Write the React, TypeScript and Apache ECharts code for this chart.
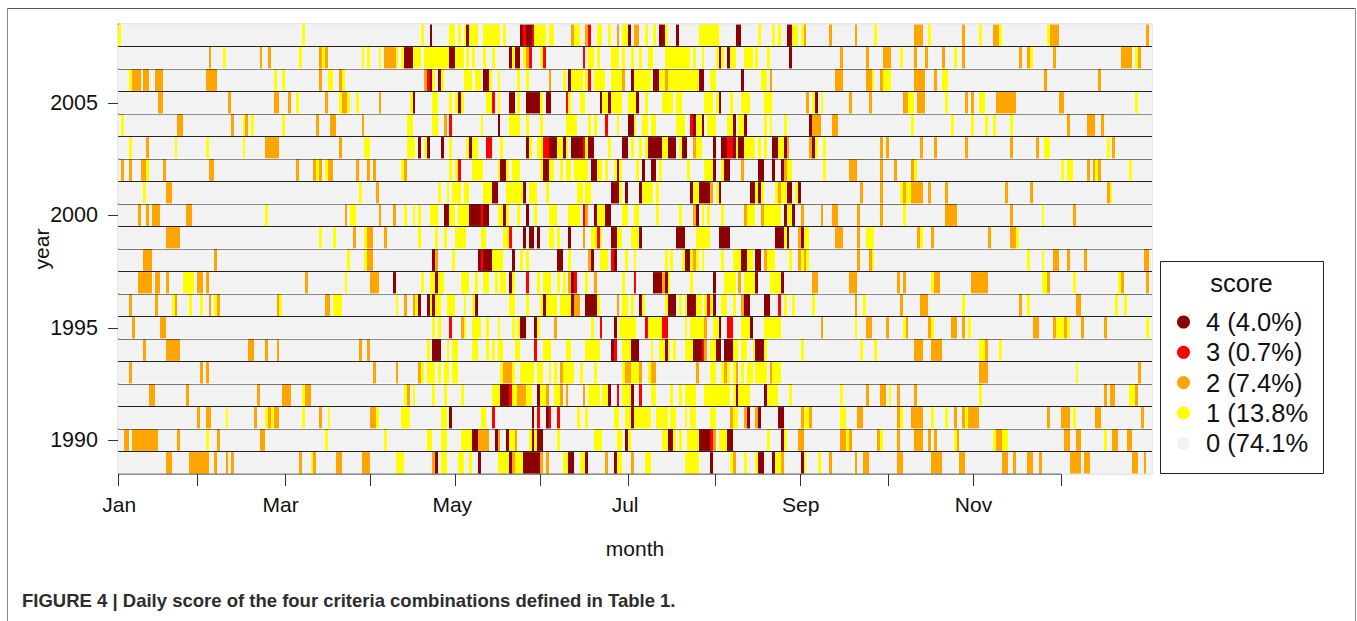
import React, { useEffect, useRef } from "react";
import * as echarts from "echarts";

type Run = [number, number, number]; // first day, last day (0-based, inclusive), score

const years = ["1989","1990","1991","1992","1993","1994","1995","1996","1997","1998","1999","2000","2001","2002","2003","2004","2005","2006","2007","2008"];
const labelYears = ["1990","1995","2000","2005"];
const monthTickDays = [0,28,59,89,119,149,180,211,241,272,302,333];
const monthLabelDays = [0.4,57.4,118,179,241,302];
const monthLabels = ["Jan","Mar","May","Jul","Sep","Nov"];
const scoreNames = ["0 (74.1%","1 (13.8%","2 (7.4%)","3 (0.7%)","4 (4.0%)"];
const scoreColors = ["#f2f2f2","#ffff00","#ffa500","#ff0000","#8b0000"];
const legendOrder = [4,3,2,1,0];

const y2008: Run[] = [[0,0,1],[65,65,1],[107,107,1],[110,110,4],[117,118,1],[120,120,1],[122,122,1],[123,123,4],[124,126,1],[129,134,1],[136,136,1],[142,142,4],[143,143,3],[144,145,4],[146,146,3],[147,150,1],[152,153,1],[160,160,2],[161,162,1],[165,165,2],[166,166,3],[169,170,1],[173,173,1],[176,176,2],[178,179,1],[180,180,4],[182,183,2],[186,186,1],[189,189,1],[191,192,4],[193,193,1],[197,197,4],[205,211,1],[218,219,4],[226,226,1],[231,231,1],[233,233,1],[236,237,4],[238,239,1],[241,241,1],[242,242,2],[251,251,2],[260,260,2],[267,267,1],[281,283,2],[286,286,1],[298,298,2],[304,304,1],[309,310,2],[311,311,1],[328,328,1],[329,331,2],[363,363,2]];
const y2007: Run[] = [[32,32,2],[37,37,1],[50,50,2],[53,53,2],[64,64,1],[71,71,2],[72,72,1],[73,73,2],[86,86,1],[88,88,1],[92,92,1],[94,97,2],[98,98,1],[100,100,1],[101,103,4],[104,106,1],[108,116,1],[117,118,4],[119,121,1],[123,123,1],[125,125,1],[129,129,1],[132,132,1],[138,138,4],[139,139,1],[140,141,4],[143,143,1],[144,144,2],[145,145,3],[149,149,1],[150,150,3],[164,164,3],[166,167,1],[169,169,1],[174,176,1],[178,178,1],[181,181,1],[184,184,1],[187,188,1],[193,201,1],[203,203,1],[206,206,1],[211,211,1],[212,212,4],[213,213,1],[215,215,4],[216,217,1],[221,223,1],[225,225,1],[229,229,1],[237,237,4],[255,255,2],[264,264,2],[270,272,2],[276,276,1],[281,281,2],[285,285,2],[291,291,2],[295,295,1],[298,298,2],[318,318,2],[321,321,2],[322,322,1],[330,330,2],[354,357,2],[359,359,1],[360,360,2]];
const y2006: Run[] = [[4,4,1],[5,7,2],[9,10,2],[13,15,2],[31,34,2],[55,55,1],[58,58,1],[71,71,2],[74,75,1],[78,78,2],[79,79,1],[108,108,2],[109,109,3],[110,110,4],[111,111,1],[113,113,4],[114,114,1],[122,124,1],[126,127,1],[129,130,4],[131,131,1],[134,134,1],[141,141,1],[144,144,1],[152,152,2],[157,157,1],[159,159,4],[160,163,1],[165,165,1],[166,166,3],[168,171,1],[174,177,1],[178,178,2],[181,181,4],[182,187,1],[189,190,4],[191,192,1],[193,193,2],[194,204,1],[205,206,4],[209,210,1],[220,220,4],[227,228,1],[230,230,2],[253,255,2],[264,265,2],[266,266,1],[269,269,2],[270,272,1],[281,284,2],[288,288,2],[291,292,1],[327,327,2],[346,346,2]];
const y2005: Run[] = [[14,15,2],[39,39,2],[55,56,2],[60,60,2],[63,63,1],[73,73,2],[78,78,1],[79,80,2],[81,81,1],[84,84,1],[92,92,2],[103,103,1],[104,104,4],[111,112,1],[117,117,1],[119,119,1],[120,120,4],[121,121,1],[130,131,1],[132,132,3],[134,134,1],[138,139,4],[141,141,1],[144,148,4],[149,149,1],[151,152,4],[158,158,3],[159,159,1],[163,164,1],[170,170,4],[171,172,1],[173,173,4],[174,177,1],[180,182,1],[183,183,4],[186,186,1],[192,195,1],[197,198,1],[207,209,1],[211,211,1],[212,212,4],[216,216,1],[220,222,1],[228,230,1],[243,243,2],[245,245,1],[246,246,4],[248,248,1],[258,258,2],[265,265,2],[277,278,2],[279,280,1],[282,284,2],[292,292,1],[299,299,2],[301,301,2],[304,305,1],[310,316,2],[332,333,2],[359,359,1]];
const y2004: Run[] = [[1,1,1],[21,22,2],[40,40,2],[44,44,1],[45,45,2],[47,47,1],[58,58,1],[70,70,2],[75,76,2],[86,86,2],[102,103,1],[111,112,1],[115,115,2],[117,117,3],[128,128,1],[134,134,4],[138,141,1],[144,144,1],[149,149,1],[158,161,1],[166,166,1],[168,168,1],[172,172,3],[176,176,1],[180,181,4],[182,182,1],[185,186,1],[188,189,1],[197,199,1],[202,202,3],[203,203,4],[204,205,1],[206,206,4],[208,210,1],[215,216,1],[217,217,4],[219,220,1],[221,221,4],[228,228,1],[230,230,1],[235,235,1],[244,244,4],[245,247,2],[252,253,2],[280,280,1],[294,294,1],[301,301,1],[306,306,1],[309,309,1],[315,315,1],[335,335,2],[342,344,2],[347,347,2]];
const y2003: Run[] = [[4,4,1],[10,10,2],[20,20,1],[31,31,1],[44,44,1],[52,56,2],[78,78,2],[87,88,1],[102,104,1],[106,106,4],[108,108,1],[109,109,4],[114,114,4],[117,117,1],[123,123,1],[124,124,4],[125,126,1],[130,131,3],[135,135,1],[144,144,4],[145,145,1],[148,149,1],[150,151,3],[152,154,4],[155,156,1],[157,157,4],[158,158,1],[160,163,4],[164,164,3],[165,165,1],[166,167,4],[173,173,1],[178,179,4],[181,181,1],[184,184,1],[186,186,1],[187,191,4],[192,193,1],[194,196,4],[198,198,1],[199,200,4],[203,203,2],[204,205,1],[210,210,4],[213,214,4],[215,216,3],[217,217,4],[218,218,1],[219,220,4],[221,224,1],[226,226,1],[228,228,1],[231,232,4],[233,234,1],[235,235,4],[236,236,2],[244,244,2],[245,245,4],[246,246,1],[249,249,1],[269,269,2],[271,271,2],[283,283,2],[288,288,2],[299,299,2],[315,315,2],[324,324,2],[327,328,1],[349,349,1],[351,351,2]];
const y2002: Run[] = [[1,1,2],[4,4,2],[8,9,2],[10,10,1],[16,16,2],[32,33,2],[63,63,2],[69,69,2],[70,70,1],[71,71,2],[73,73,1],[74,75,2],[84,84,2],[88,88,2],[90,90,2],[100,100,1],[101,101,2],[117,117,1],[119,119,1],[120,120,3],[125,128,1],[134,134,1],[135,136,4],[137,137,1],[139,141,1],[149,149,1],[150,151,4],[152,153,1],[156,156,1],[158,159,1],[161,165,1],[167,168,4],[169,170,1],[172,172,1],[175,175,1],[176,176,4],[177,177,1],[183,183,1],[185,185,4],[188,189,4],[191,191,1],[201,201,1],[207,209,1],[210,210,4],[213,213,1],[214,215,4],[220,220,2],[226,227,4],[231,231,4],[234,234,4],[235,235,2],[236,237,1],[249,249,1],[258,260,2],[269,269,2],[274,274,2],[280,280,2],[281,281,1],[333,333,1],[335,336,1],[342,342,2],[344,344,2],[345,345,1],[346,346,2],[357,357,1]];
const y2001: Run[] = [[9,9,1],[17,18,2],[85,85,1],[91,91,2],[113,113,1],[116,116,1],[118,120,1],[122,123,1],[129,131,1],[132,133,4],[137,142,1],[143,143,4],[145,147,1],[151,151,1],[162,163,1],[165,166,1],[174,176,4],[177,177,1],[179,179,4],[184,184,4],[185,188,1],[190,190,1],[202,202,4],[203,204,1],[205,208,4],[209,209,2],[211,211,1],[212,212,4],[223,224,4],[225,225,1],[226,226,4],[227,227,1],[232,232,1],[233,233,2],[234,235,1],[236,237,4],[239,239,1],[240,240,4],[262,262,2],[269,269,2],[276,276,1],[277,277,2],[278,279,1],[280,283,2],[286,286,2],[292,292,2],[313,313,2],[322,322,2],[349,349,2],[350,350,1]];
const y2000: Run[] = [[7,7,2],[10,10,2],[12,14,2],[24,25,2],[52,52,1],[80,80,2],[82,83,1],[92,92,2],[97,97,2],[101,101,1],[104,104,1],[106,106,1],[110,112,1],[115,116,4],[117,118,1],[120,123,1],[124,127,4],[128,128,3],[129,130,4],[134,135,1],[136,136,4],[137,137,1],[141,141,1],[144,144,4],[147,147,1],[152,154,1],[159,162,1],[164,164,3],[165,165,2],[168,168,4],[169,171,1],[172,173,4],[178,179,1],[182,183,1],[190,190,1],[198,198,1],[203,203,2],[204,204,4],[206,206,1],[208,208,1],[213,213,1],[221,221,2],[222,224,1],[227,227,2],[228,233,1],[235,235,4],[236,237,1],[238,238,4],[241,241,2],[248,248,2],[252,253,2],[261,261,2],[269,269,2],[277,277,1],[292,295,2],[315,315,2],[326,326,1],[337,337,2]];
const y1999: Run[] = [[17,21,2],[71,71,1],[76,76,1],[83,83,2],[87,87,1],[88,89,2],[94,94,2],[106,106,1],[112,112,1],[115,115,1],[119,122,1],[128,129,1],[136,137,1],[138,138,3],[143,143,4],[145,146,4],[148,148,4],[152,153,1],[155,155,1],[159,159,4],[164,164,2],[167,168,1],[169,169,3],[170,170,1],[174,175,4],[176,177,1],[181,183,1],[184,184,4],[197,199,4],[204,208,1],[212,215,4],[232,234,4],[235,235,1],[236,236,4],[240,240,2],[241,241,4],[242,243,1],[253,255,2],[261,261,2],[264,266,1],[282,282,2],[283,283,1],[287,287,2],[307,307,2],[315,316,2],[317,317,1]];
const y1998: Run[] = [[9,11,2],[34,34,2],[81,81,1],[87,87,1],[88,89,2],[111,111,4],[112,112,2],[118,118,1],[127,127,4],[128,128,3],[129,131,4],[132,135,1],[139,139,4],[142,142,1],[144,144,1],[155,156,4],[159,159,1],[166,166,2],[167,167,4],[170,172,1],[174,174,3],[175,175,4],[179,179,1],[182,182,1],[193,193,1],[195,195,1],[199,199,1],[200,201,4],[202,202,1],[203,203,2],[204,204,1],[206,206,1],[213,213,1],[217,219,1],[220,221,4],[222,223,1],[225,226,4],[228,228,2],[229,231,1],[237,237,1],[240,240,2],[241,241,1],[242,242,2],[243,243,1],[261,261,2],[265,265,2],[266,266,1],[321,321,1],[326,326,1],[330,331,2],[335,335,2],[341,341,2],[362,363,2]];
const y1997: Run[] = [[7,11,2],[13,14,2],[17,17,2],[23,26,1],[28,29,2],[31,31,2],[66,66,2],[80,80,1],[89,91,2],[97,97,4],[107,107,1],[110,111,1],[112,112,4],[113,114,1],[121,123,1],[126,126,1],[129,130,1],[133,133,1],[135,136,1],[138,138,4],[139,139,1],[144,144,3],[148,148,1],[150,152,1],[155,155,1],[157,157,1],[159,159,2],[160,160,4],[161,161,3],[165,165,1],[168,168,2],[178,178,1],[182,182,3],[189,191,4],[192,192,2],[193,193,4],[194,194,1],[202,202,1],[210,210,4],[214,217,1],[219,219,2],[221,224,1],[225,225,4],[230,233,1],[234,234,4],[245,246,2],[258,260,2],[275,275,2],[277,277,2],[287,287,1],[288,289,2],[301,306,2],[326,327,1],[328,328,2],[337,337,1],[353,353,1],[354,354,2],[363,363,2]];
const y1996: Run[] = [[4,4,2],[13,13,2],[19,19,1],[20,20,2],[25,25,1],[29,29,1],[32,32,2],[34,34,1],[35,35,2],[56,56,2],[57,57,1],[73,74,2],[76,78,1],[98,98,1],[101,101,2],[104,104,2],[105,105,1],[106,106,4],[109,109,4],[110,110,1],[111,111,4],[112,113,1],[116,118,1],[122,122,1],[125,125,1],[126,126,4],[138,139,1],[144,144,1],[149,149,1],[150,150,4],[151,154,1],[156,159,1],[160,160,4],[161,162,2],[165,168,4],[169,169,1],[176,176,2],[178,179,1],[181,181,1],[184,184,4],[185,185,1],[193,193,1],[194,196,4],[198,198,1],[200,200,1],[201,203,4],[204,205,1],[207,207,1],[208,208,3],[209,209,1],[210,210,4],[213,214,1],[217,217,1],[220,220,2],[221,222,4],[228,229,4],[233,233,3],[235,235,1],[238,238,1],[245,245,1],[260,260,2],[263,263,1],[276,276,2],[283,285,2],[298,298,1],[318,318,2],[321,321,1],[338,339,2],[352,352,1],[355,355,1]];
const y1995: Run[] = [[5,5,2],[15,16,2],[111,111,1],[113,113,1],[117,117,3],[121,121,2],[122,122,1],[125,127,1],[130,130,1],[134,134,1],[139,139,1],[141,141,1],[142,143,4],[147,147,4],[148,148,1],[154,154,2],[167,167,1],[170,170,3],[175,175,4],[177,182,1],[186,186,3],[187,191,1],[192,193,3],[200,200,1],[202,206,1],[207,207,2],[210,211,1],[212,212,4],[215,216,3],[220,222,1],[223,223,4],[228,233,1],[248,248,2],[260,260,1],[264,265,2],[271,271,2],[277,277,1],[278,278,2],[286,286,2],[287,287,1],[294,295,2],[298,298,2],[300,300,1],[323,324,2],[330,330,2],[331,333,1],[334,334,2],[335,335,1],[340,340,2],[348,348,2],[363,363,1]];
const y1994: Run[] = [[9,9,2],[17,21,2],[46,47,2],[52,52,2],[56,56,2],[85,85,2],[88,88,2],[109,109,1],[111,113,4],[116,116,1],[118,119,1],[125,126,1],[130,130,1],[132,132,1],[134,135,1],[140,141,1],[147,147,3],[150,152,1],[158,159,1],[165,169,1],[174,174,4],[175,175,3],[178,180,1],[181,183,4],[188,188,1],[191,192,1],[193,193,4],[194,194,1],[196,196,1],[200,202,1],[203,205,4],[206,206,3],[207,207,2],[209,210,1],[211,212,4],[214,216,4],[217,218,1],[220,221,1],[224,224,1],[225,227,4],[228,228,1],[241,241,1],[262,262,1],[267,267,1],[281,283,2],[287,290,2],[304,305,1],[306,306,2],[311,311,1]];
const y1993: Run[] = [[4,4,2],[29,29,2],[31,31,2],[90,90,2],[98,98,2],[106,106,2],[107,107,1],[109,111,1],[113,113,1],[115,116,1],[118,119,1],[135,135,1],[136,138,2],[139,139,1],[142,146,1],[148,149,1],[152,152,1],[154,154,1],[156,156,2],[157,160,1],[163,163,1],[168,168,1],[178,178,1],[179,180,2],[181,183,1],[184,184,2],[187,187,1],[188,189,2],[204,204,2],[209,210,1],[213,213,1],[214,214,2],[215,215,1],[217,217,1],[218,218,2],[220,220,1],[222,223,1],[225,228,1],[230,230,2],[231,233,1],[304,306,2],[338,338,1],[360,360,2]];
const y1992: Run[] = [[11,12,2],[24,24,2],[49,49,2],[58,60,2],[65,65,1],[66,67,2],[101,101,1],[102,102,2],[104,104,1],[111,111,1],[115,115,1],[121,121,1],[132,134,1],[135,137,4],[138,138,3],[139,140,1],[141,143,2],[144,145,1],[148,148,4],[149,150,1],[151,151,2],[154,155,1],[156,156,2],[158,158,2],[164,164,2],[166,169,1],[171,172,1],[173,173,4],[176,176,3],[178,180,1],[181,181,4],[184,184,3],[188,189,1],[195,195,1],[198,198,1],[200,203,1],[207,215,1],[217,217,1],[218,218,4],[219,222,1],[228,228,4],[229,232,1],[237,237,1],[255,255,1],[264,264,2],[269,270,2],[272,272,1],[275,275,2],[281,281,2],[304,304,1],[348,348,2],[350,351,2],[357,358,1],[359,359,2]];
const y1991: Run[] = [[28,28,2],[31,32,2],[38,38,1],[48,48,2],[52,52,1],[53,53,2],[54,54,1],[55,56,2],[65,65,1],[71,71,2],[74,74,1],[89,90,2],[91,91,1],[100,102,1],[114,115,1],[117,117,4],[128,129,1],[132,132,3],[146,146,4],[148,148,3],[151,151,4],[152,152,3],[155,155,3],[162,162,1],[165,165,1],[175,176,1],[179,180,1],[181,181,4],[182,187,1],[190,193,1],[195,196,1],[200,200,1],[202,203,1],[209,210,1],[216,216,2],[217,218,1],[221,221,2],[222,222,4],[225,225,2],[226,226,4],[233,234,4],[241,241,2],[242,243,1],[244,244,2],[255,256,1],[261,262,2],[275,275,2],[276,276,1],[280,283,2],[287,287,1],[292,292,1],[295,295,2],[298,298,2],[299,299,1],[300,303,2],[328,328,2],[333,335,2],[337,337,1],[345,346,2],[361,361,2]];
const y1990: Run[] = [[2,3,2],[5,13,2],[21,21,2],[31,31,1],[35,35,2],[50,51,2],[73,73,1],[94,94,1],[109,110,1],[114,115,1],[121,124,1],[125,126,4],[127,130,2],[133,133,4],[134,134,2],[137,137,4],[138,139,1],[140,140,2],[145,145,1],[146,146,4],[147,147,1],[148,149,4],[155,155,1],[168,170,1],[176,177,1],[179,179,4],[180,180,1],[192,193,1],[194,195,4],[196,196,1],[198,198,1],[201,204,1],[205,208,4],[209,209,3],[210,210,2],[212,214,1],[215,216,4],[229,229,1],[234,234,4],[235,235,1],[240,241,2],[255,256,2],[257,257,1],[258,258,2],[268,268,2],[269,269,1],[275,275,2],[281,283,2],[286,286,2],[288,288,2],[295,295,1],[296,296,2],[309,309,1],[310,311,2],[312,313,1],[334,335,2],[338,339,2],[348,348,1],[351,352,2],[356,357,2]];
const y1989: Run[] = [[17,18,2],[25,31,2],[34,34,2],[38,38,2],[40,40,2],[64,64,2],[68,68,1],[69,69,2],[77,78,2],[86,88,2],[98,100,1],[111,111,2],[112,112,4],[114,115,1],[120,121,1],[124,124,1],[127,127,4],[134,137,1],[138,138,4],[139,139,2],[140,142,1],[143,148,4],[149,149,2],[151,151,2],[157,158,1],[159,160,4],[163,164,1],[165,165,4],[172,172,2],[175,175,4],[176,177,1],[181,181,2],[186,187,1],[200,204,1],[209,209,4],[216,216,1],[217,217,2],[221,221,1],[225,225,1],[226,227,4],[231,231,4],[232,233,1],[234,234,2],[241,241,4],[242,242,1],[247,247,1],[251,251,2],[260,260,2],[263,264,2],[275,276,2],[287,290,2],[297,298,2],[312,313,2],[316,316,2],[321,322,2],[325,325,2],[336,339,2],[341,342,2],[358,359,2],[362,362,2]];

const rowsByYear: Run[][] = [y1989,y1990,y1991,y1992,y1993,y1994,y1995,y1996,y1997,y1998,y1999,y2000,y2001,y2002,y2003,y2004,y2005,y2006,y2007,y2008];
const DAYS = 365;

// one list per score of [from, to, rowIndex]; whatever no run covers is score 0
function buildSeriesData(): number[][][] {
  const out: number[][][] = [[], [], [], [], []];
  rowsByYear.forEach((runs, row) => {
    const day = new Array(DAYS).fill(0);
    runs.forEach(([a, b, s]) => { for (let d = a; d <= b; d++) day[d] = s; });
    let start = 0;
    for (let d = 1; d <= DAYS; d++) {
      if (d === DAYS || day[d] !== day[start]) {
        out[day[start]].push([start, d, row]);
        start = d;
      }
    }
  });
  return out;
}

const renderRun = (_: any, api: any) => {
  const a = api.coord([api.value(0), api.value(2)]);
  const b = api.coord([api.value(1), api.value(2)]);
  const h = api.size([0, 1])[1];
  const x0 = Math.round(a[0]);
  const x1 = Math.round(b[0]);
  return {
    type: "rect",
    shape: { x: x0, y: a[1] - h / 2 + 0.6, width: x1 - x0, height: h - 1.2 },
    style: { fill: api.visual("color") },
  };
};

export default function App() {
  const ref = useRef<HTMLDivElement>(null);
  useEffect(() => {
    const chart = echarts.init(ref.current!, undefined, { renderer: "svg" });
    const data = buildSeriesData();
    const showYear = (_: number, v: string) => labelYears.includes(v);
    chart.setOption({
      animation: false,
      backgroundColor: "#fff",
      textStyle: { fontFamily: "Liberation Sans" },
      grid: { left: 118, top: 24, width: 1034, height: 450, show: true, borderColor: "#cfcfcf", borderWidth: 1, backgroundColor: "transparent" },
      xAxis: {
        type: "value", min: 0, max: DAYS,
        name: "month", nameLocation: "middle", nameGap: 64,
        nameTextStyle: { fontSize: 21, color: "#111" },
        splitLine: { show: false },
        axisLine: { show: false },
        axisTick: { show: true, length: 12, customValues: monthTickDays, lineStyle: { color: "#333", width: 1 } },
        axisLabel: {
          customValues: monthLabelDays, fontSize: 21, color: "#111", margin: 20,
          formatter: (v: number) => monthLabels[monthLabelDays.indexOf(v)] ?? "",
        },
      },
      yAxis: {
        type: "category", data: years, boundaryGap: true,
        name: "year", nameLocation: "middle", nameGap: 66, nameRotate: 90, nameMoveOverlap: false,
        nameTextStyle: { fontSize: 21, color: "#111" },
        axisLine: { show: true, lineStyle: { color: "#555", width: 1 } },
        axisTick: { show: true, length: 10, alignWithLabel: true, interval: showYear, lineStyle: { color: "#333", width: 1 } },
        axisLabel: { interval: showYear, fontSize: 21.5, color: "#111", margin: 20 },
        splitLine: { show: true, interval: 0, showMinLine: false, showMaxLine: false, lineStyle: { color: "#222", width: 1 } },
      },
      legend: {
        orient: "vertical", left: 1177, top: 309, padding: 0, itemGap: 4.3,
        itemWidth: 35, itemHeight: 13, icon: "circle", selectedMode: false,
        textStyle: { fontSize: 25.5, color: "#111", fontFamily: "Liberation Sans" },
        data: legendOrder.map((s) => scoreNames[s]),
      },
      series: scoreNames.map((name, s) => ({
        type: "custom", name, data: data[s],
        encode: { x: [0, 1], y: 2 },
        itemStyle: { color: scoreColors[s] },
        renderItem: renderRun,
      })),
      graphic: [
        { type: "line", silent: true, shape: { x1: 118, y1: 474, x2: 1061, y2: 474 }, style: { stroke: "#333", lineWidth: 1 } },
        { type: "rect", silent: true, shape: { x: 1160.5, y: 261.5, width: 163, height: 212 }, style: { fill: "none", stroke: "#222", lineWidth: 1 } },
        { type: "text", silent: true, x: 1241.5, y: 283, style: { text: "score", fontSize: 25.5, fontFamily: "Liberation Sans", fill: "#111", align: "center", verticalAlign: "middle" } },
        { type: "text", silent: true, x: 22, y: 600, style: { text: "FIGURE 4 | Daily score of the four criteria combinations defined in Table 1.", fontSize: 18.5, fontWeight: "bold", fontFamily: "Liberation Sans", fill: "#2d2d2d", align: "left", verticalAlign: "middle" } },
        { type: "line", silent: true, shape: { x1: 7.5, y1: 8.5, x2: 1355.5, y2: 8.5 }, style: { stroke: "#555", lineWidth: 1 } },
        { type: "line", silent: true, shape: { x1: 7.5, y1: 8.5, x2: 7.5, y2: 621 }, style: { stroke: "#888", lineWidth: 1 } },
        { type: "line", silent: true, shape: { x1: 1355.5, y1: 8.5, x2: 1355.5, y2: 621 }, style: { stroke: "#888", lineWidth: 1 } },
      ],
    });
    return () => chart.dispose();
  }, []);
  return <div ref={ref} style={{ position: "fixed", left: 0, top: 0, width: 1357, height: 621 }} />;
}
